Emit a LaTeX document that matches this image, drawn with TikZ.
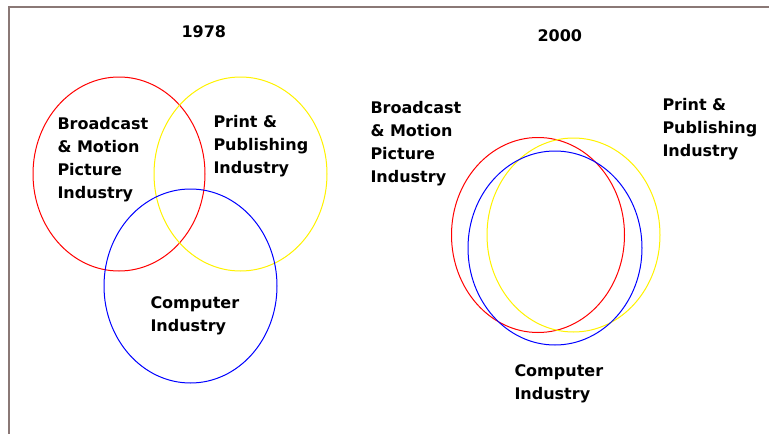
\documentclass[tikz,border=0pt]{standalone}
\usepackage{fontspec}
\setmainfont{DejaVu Sans}
\definecolor{framegray}{RGB}{138,120,118}
\begin{document}
\begin{tikzpicture}[x=1pt, y=-1pt, line width=1pt, every node/.style={font=\bfseries\fontsize{16}{23}\selectfont, inner sep=0pt, align=left, anchor=base west}]
	\useasboundingbox (0,0) rectangle (769,434);
	\draw[framegray, line width=1.5pt] (9,434) to (9,7) to (769,7);

	% 1978 (base anchor sits on the last line)
	\node (y78) at (181,37) {1978};
	\draw[red] (119,174) ellipse (86 and 97);
	\draw[yellow] (240.5,174) ellipse (86.5 and 97);
	\draw[blue] (190.5,286) ellipse (86.5 and 97);
	\node (bc78) at (57,198) {Broadcast\\\& Motion\\Picture\\Industry};
	\node (pp78) at (213,173) {Print \&\\Publishing\\Industry};
	\node (ci78) at (150,331) {Computer\\Industry};

	% 2000
	\node (y00) at (537,41) {2000};
	\draw[red] (538,235) ellipse (86.5 and 97.5);
	\draw[yellow] (573.5,235) ellipse (86.5 and 97);
	\draw[blue] (555,248) ellipse (87 and 97);
	\node (bc00) at (370,182) {Broadcast\\\& Motion\\Picture\\Industry};
	\node (pp00) at (662,156) {Print \&\\Publishing\\Industry};
	\node (ci00) at (514,399) {Computer\\Industry};
\end{tikzpicture}
\end{document}
